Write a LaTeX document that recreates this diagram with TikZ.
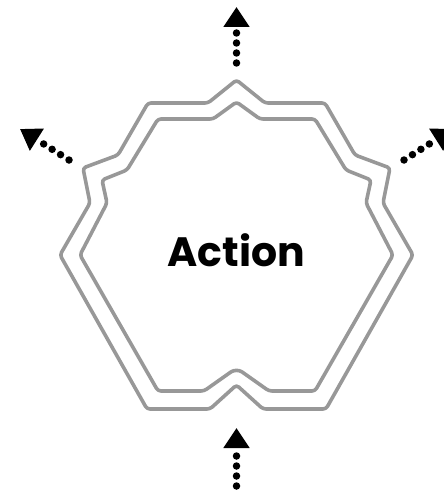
\documentclass[tikz,border=0pt]{standalone}
\usepackage{fontspec}
\setmainfont{Poppins}
\usetikzlibrary{arrows.meta}
\definecolor{rimgray}{RGB}{152,152,152}
\begin{document}
\begin{tikzpicture}[x=1pt, y=-1pt,
    rim/.style={draw=rimgray, line width=3.6pt, rounded corners=3pt, line join=round},
    dotarrow/.style={line width=7.5pt, line cap=round, dash pattern=on 0pt off 10pt,
        -{Triangle[width=25pt, length=20pt]}}]
    \useasboundingbox (0,0) rectangle (444,495);
    \clip (0,0) rectangle (444,495);
    % outer rim
    \draw[rim] (148,103) -- (208,103) -- (236.5,80) -- (265,103) -- (325,103)
        -- (355,155) -- (390,168) -- (383,203) -- (413,255) -- (326,409)
        -- (263,409) -- (236.5,385) -- (210,409) -- (147,409) -- (60,255)
        -- (90,203) -- (83,168) -- (118,155) -- cycle;
    % inner rim
    \draw[rim] (158,119) -- (213,119) -- (236.5,102) -- (260,119) -- (315,119)
        -- (346,170) -- (371,180) -- (366,203) -- (393,255) -- (315,391)
        -- (269,391) [rounded corners=7pt] -- (236.5,368) [rounded corners=3pt]
        -- (204,391) -- (158,391) -- (80,255) -- (107,203) -- (102,180)
        -- (127,170) -- cycle;
    \node (action) at (236.5,250) {\fontsize{41}{41}\selectfont\bfseries Action};
    % arrows out of and into the rim
    \coordinate (topfrom) at (236.5,63);
    \coordinate (topto) at (236.5,7);
    \coordinate (leftfrom) at (69,160);
    \coordinate (leftto) at (20,129);
    \coordinate (rightfrom) at (404,160);
    \coordinate (rightto) at (453,129);
    \coordinate (bottomfrom) at (236.5,486);
    \coordinate (bottomto) at (236.5,428);
    \draw[dotarrow] (topfrom) -- (topto);
    \draw[dotarrow] (leftfrom) -- (leftto);
    \draw[dotarrow] (rightfrom) -- (rightto);
    \draw[dotarrow] (bottomfrom) -- (bottomto);
\end{tikzpicture}
\end{document}
